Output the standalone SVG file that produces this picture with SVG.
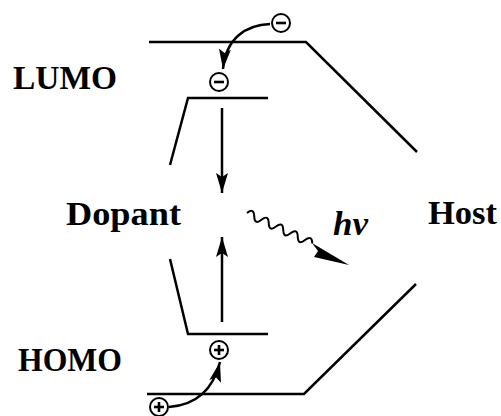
<svg xmlns="http://www.w3.org/2000/svg" width="501" height="416" viewBox="0 0 501 416">
<defs>
<style>
.ln{fill:none;stroke:#000;stroke-width:2.5;stroke-linecap:butt;stroke-linejoin:miter}
.arr{fill:none;stroke:#000;stroke-width:2.5}
.ch{fill:#fff;stroke:#000;stroke-width:2}
.sg{stroke:#000;stroke-width:2.6;fill:none}
.lbl{font-family:"Liberation Serif","Times New Roman",serif;font-weight:bold;font-size:34px;fill:#000}
</style>
<marker id="ah" viewBox="0 0 20 12" refX="20" refY="6" markerWidth="20" markerHeight="12" markerUnits="userSpaceOnUse" orient="auto">
<path d="M0,0 L20,6 L0,12 L4,6 Z" fill="#000"/>
</marker>
</defs>
<rect width="501" height="416" fill="#fff"/>

<g id="host">
<polyline class="ln" points="149,42 306,42 417,152"/>
<polyline class="ln" points="147,394 304,394 416,284"/>
<text class="lbl" x="428" y="224" textLength="69" lengthAdjust="spacingAndGlyphs">Host</text>
</g>

<g id="dopant">
<polyline class="ln" points="170,165 188,98 268,98"/>
<polyline class="ln" points="170,259 188,334 268,334"/>
<text class="lbl" x="66" y="225" textLength="115" lengthAdjust="spacingAndGlyphs">Dopant</text>
</g>

<g id="labels">
<text class="lbl" x="13" y="89" textLength="104" lengthAdjust="spacingAndGlyphs">LUMO</text>
<text class="lbl" x="18" y="371" textLength="104" lengthAdjust="spacingAndGlyphs">HOMO</text>
<text class="lbl" x="333" y="235" font-style="italic" textLength="35" lengthAdjust="spacingAndGlyphs">hv</text>
</g>

<g id="charges">
<g id="e-top"><circle class="ch" cx="281" cy="23" r="9"/><line class="sg" x1="276" y1="23" x2="286" y2="23"/></g>
<g id="e-dop"><circle class="ch" cx="219" cy="82" r="9"/><line class="sg" x1="214" y1="82" x2="224" y2="82"/></g>
<g id="h-dop"><circle class="ch" cx="219" cy="350" r="9"/><line class="sg" x1="214" y1="350" x2="224" y2="350"/><line class="sg" x1="219" y1="345" x2="219" y2="355"/></g>
<g id="h-bot"><circle class="ch" cx="159" cy="407" r="9"/><line class="sg" x1="154" y1="407" x2="164" y2="407"/><line class="sg" x1="159" y1="402" x2="159" y2="412"/></g>
</g>

<g id="connectors">
<path class="arr" d="M270,24 C246,25 226,38 223,69" marker-end="url(#ah)"/>
<line class="arr" x1="222" y1="108" x2="222" y2="193" marker-end="url(#ah)"/>
<line class="arr" x1="222" y1="322" x2="222" y2="237" marker-end="url(#ah)"/>
<path class="arr" d="M169,407 C196,405 213,390 220,362" marker-end="url(#ah)"/>
<g transform="translate(247,213) rotate(25)">
<path d="M0,0 q4,-8 8,0 q4,8 8,0 q4,-8 8,0 q4,8 8,0 q4,-8 8,0 q4,8 8,0 q4,-8 8,0 q4,8 8,0 q4,-8 8,0" fill="none" stroke="#000" stroke-width="2"/>
</g>
<path d="M349,265 L314,257 L318,251 L312,243 Z" fill="#000"/>
</g>
</svg>
